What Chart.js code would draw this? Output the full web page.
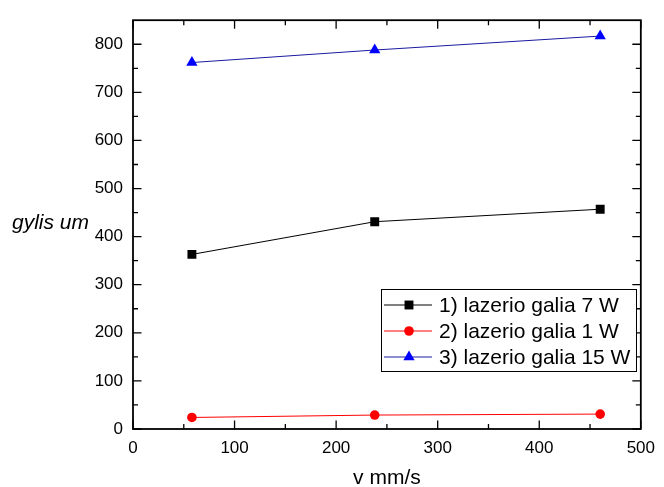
<!DOCTYPE html>
<html>
<head>
<meta charset="utf-8">
<script src="https://cdn.jsdelivr.net/npm/chart.js@4/dist/chart.umd.min.js"></script>
<style>
    html, body { margin: 0; padding: 0; background: #ffffff; }
    #wrap { width: 664px; height: 487px; }
</style>
</head>
<body>
<div id="wrap"><canvas id="chart" width="664" height="487"></canvas></div>
<script>
const xValues = [58, 238, 460];
const series7W = [363, 431, 457];
const series1W = [24, 29, 31];
const series15W = [762, 788, 817];
const seriesLabels = ["1) lazerio galia 7 W", "2) lazerio galia 1 W", "3) lazerio galia 15 W"];
const xTicks = [0, 100, 200, 300, 400, 500];
const xMinorTicks = [50, 150, 250, 350, 450];
const yTicks = [0, 100, 200, 300, 400, 500, 600, 700, 800];
const yMinorTicks = [50, 150, 250, 350, 450, 550, 650, 750];
const xTitle = "v mm/s";
const yTitle = "gylis um";

const FONT = "'Liberation Sans', Arial, sans-serif";

function toPoints(ys) {
    return xValues.map((x, i) => ({ x, y: ys[i] }));
}

function drawMarker(ctx, style, r, x, y, color) {
    ctx.save();
    ctx.fillStyle = color;
    ctx.beginPath();
    if (style === "rect") {
        const s = Math.SQRT1_2 * r;
        ctx.rect(x - s, y - s, 2 * s, 2 * s);
    } else if (style === "circle") {
        ctx.arc(x, y, r, 0, Math.PI * 2);
    } else {
        const w = r * Math.sqrt(3) / 2;
        ctx.moveTo(x, y - r);
        ctx.lineTo(x + w, y + r / 2);
        ctx.lineTo(x - w, y + r / 2);
        ctx.closePath();
    }
    ctx.fill();
    ctx.restore();
}

// frame with inward ticks on all four sides, titles and the boxed legend
const framePlugin = {
    id: "frame",
    afterDraw(chart) {
        const ctx = chart.ctx;
        const area = chart.chartArea;
        const xs = chart.scales.x;
        const ys = chart.scales.y;

        ctx.save();
        ctx.strokeStyle = "#000000";
        ctx.lineWidth = 1.8;
        ctx.strokeRect(area.left, area.top, area.right - area.left, area.bottom - area.top);

        ctx.lineWidth = 1.3;
        const tick = (vals, len) => {
            vals.forEach((v) => {
                const px = xs.getPixelForValue(v);
                ctx.beginPath();
                ctx.moveTo(px, area.bottom);
                ctx.lineTo(px, area.bottom - len);
                ctx.moveTo(px, area.top);
                ctx.lineTo(px, area.top + len);
                ctx.stroke();
            });
        };
        const ytick = (vals, len) => {
            vals.forEach((v) => {
                const py = ys.getPixelForValue(v);
                ctx.beginPath();
                ctx.moveTo(area.left, py);
                ctx.lineTo(area.left + len, py);
                ctx.moveTo(area.right, py);
                ctx.lineTo(area.right - len, py);
                ctx.stroke();
            });
        };
        tick(xTicks, 8.5);
        tick(xMinorTicks, 5);
        ytick(yTicks, 8.5);
        ytick(yMinorTicks, 5);

        // axis titles
        ctx.fillStyle = "#000000";
        ctx.font = `21px ${FONT}`;
        ctx.textAlign = "center";
        ctx.textBaseline = "middle";
        ctx.fillText(xTitle, (area.left + area.right) / 2, 478);
        ctx.font = `italic 21px ${FONT}`;
        ctx.textAlign = "left";
        ctx.fillText(yTitle, 12, 223);

        // legend
        const box = { left: 381.5, top: 289.5, width: 255, height: 82 };
        ctx.fillStyle = "#ffffff";
        ctx.fillRect(box.left, box.top, box.width, box.height);
        ctx.lineWidth = 1;
        ctx.strokeStyle = "#000000";
        ctx.strokeRect(box.left, box.top, box.width, box.height);

        ctx.font = `21px ${FONT}`;
        chart.data.datasets.forEach((ds, i) => {
            const cy = 305 + i * 26;
            ctx.strokeStyle = ds.borderColor;
            ctx.lineWidth = 1;
            ctx.beginPath();
            ctx.moveTo(384, cy);
            ctx.lineTo(432, cy);
            ctx.stroke();
            drawMarker(ctx, ds.pointStyle, ds.pointRadius, 409, cy, ds.pointBackgroundColor);
            ctx.fillStyle = "#000000";
            ctx.fillText(ds.label, 439, cy + 1);
        });
        ctx.restore();
    },
};

new Chart(document.getElementById("chart"), {
    type: "scatter",
    data: {
        datasets: [
            {
                label: seriesLabels[0],
                data: toPoints(series7W),
                showLine: true,
                borderColor: "#000000",
                borderWidth: 1,
                pointStyle: "rect",
                pointRadius: 6.3,
                pointBackgroundColor: "#000000",
                pointBorderWidth: 0,
            },
            {
                label: seriesLabels[1],
                data: toPoints(series1W),
                showLine: true,
                borderColor: "#ff0000",
                borderWidth: 1,
                pointStyle: "circle",
                pointRadius: 4.8,
                pointBackgroundColor: "#ff0000",
                pointBorderWidth: 0,
            },
            {
                label: seriesLabels[2],
                data: toPoints(series15W),
                showLine: true,
                borderColor: "#1a1aa0",
                borderWidth: 1,
                pointStyle: "triangle",
                pointRadius: 6.5,
                pointBackgroundColor: "#0000ff",
                pointBorderWidth: 0,
            },
        ],
    },
    options: {
        responsive: false,
        animation: false,
        layout: { padding: { top: 14, right: 14, left: 0, bottom: 0 } },
        plugins: { legend: { display: false }, tooltip: { enabled: false } },
        scales: {
            x: {
                type: "linear",
                min: 0,
                max: 500,
                afterBuildTicks: (scale) => { scale.ticks = xTicks.map((v) => ({ value: v })); },
                afterFit: (scale) => { scale.height = 58; },
                grid: { display: false, drawTicks: false },
                border: { display: false },
                ticks: { color: "#000000", padding: 9, font: { family: FONT, size: 17 }, maxRotation: 0 },
            },
            y: {
                type: "linear",
                min: 0,
                max: 850,
                afterBuildTicks: (scale) => { scale.ticks = yTicks.map((v) => ({ value: v })); },
                afterFit: (scale) => { scale.width = 133; },
                grid: { display: false, drawTicks: false },
                border: { display: false },
                ticks: { color: "#000000", padding: 10, font: { family: FONT, size: 17 } },
            },
        },
    },
    plugins: [framePlugin],
});
</script>
</body>
</html>
